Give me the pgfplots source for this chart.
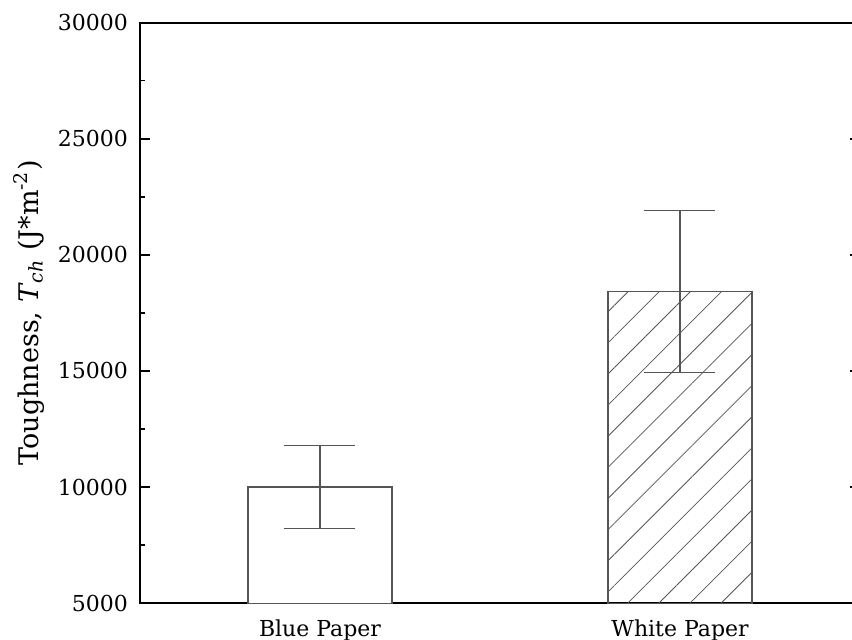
\documentclass[border=0pt]{standalone}
\usepackage{pgfplots}
\pgfplotsset{compat=1.18}
\usepackage{fontspec}
\setmainfont{DejaVu Serif}
\usetikzlibrary{patterns.meta}
\definecolor{barline}{HTML}{555555}
\begin{document}
\begin{tikzpicture}
\begin{axis}[
  scale only axis, width=360pt, height=290.3pt,
  xmin=0.5, xmax=2.5, ymin=5000, ymax=30000,
  xtick={1,2}, xticklabels={Blue Paper, White Paper},
  major x tick style={draw=none},
  ytick={5000,10000,...,30000},
  minor y tick num=1,
  ytick pos=both, yticklabel pos=left,
  tick align=inside,
  major tick length=5pt, minor tick length=2.5pt,
  every tick/.style={black, line width=0.8pt},
  axis line style={line width=1pt},
  scaled y ticks=false,
  /pgf/number format/1000 sep={},
  /pgf/number format/assume math mode=true,
  tick label style={font=\fontsize{11}{13}\selectfont},
  yticklabel style={xshift=-2.5pt},
  ylabel={Toughness, \textit{T}\textsubscript{\textit{ch}} (J*m\textsuperscript{-2})},
  ylabel style={font=\fontsize{13.5}{16}\selectfont},
  ybar, bar width=0.4,
]
\addplot[draw=barline, fill=white, line width=0.6pt, bar shift=0pt,
  error bars/.cd, y dir=both, y explicit,
  error bar style={barline, line width=0.6pt},
  error mark options={rotate=90, mark size=17.75pt, barline, line width=0.6pt}]
  coordinates {(1,10000) +- (0,1790)};
\addplot[draw=barline, line width=0.6pt, pattern={Lines[angle=45,distance=11pt,line width=0.4pt]}, pattern color=barline, bar shift=0pt,
  error bars/.cd, y dir=both, y explicit,
  error bar style={barline, line width=0.6pt},
  error mark options={rotate=90, mark size=17.75pt, barline, line width=0.6pt}]
  coordinates {(2,18415) +- (0,3495)};
\coordinate (o) at (rel axis cs:0,0);
\coordinate (t) at (rel axis cs:0,1);
\end{axis}
\pgfresetboundingbox
\path[use as bounding box] ([xshift=-70pt,yshift=-18.3pt]o) rectangle ([xshift=356pt,yshift=11.3pt]t);
\end{tikzpicture}
\end{document}
